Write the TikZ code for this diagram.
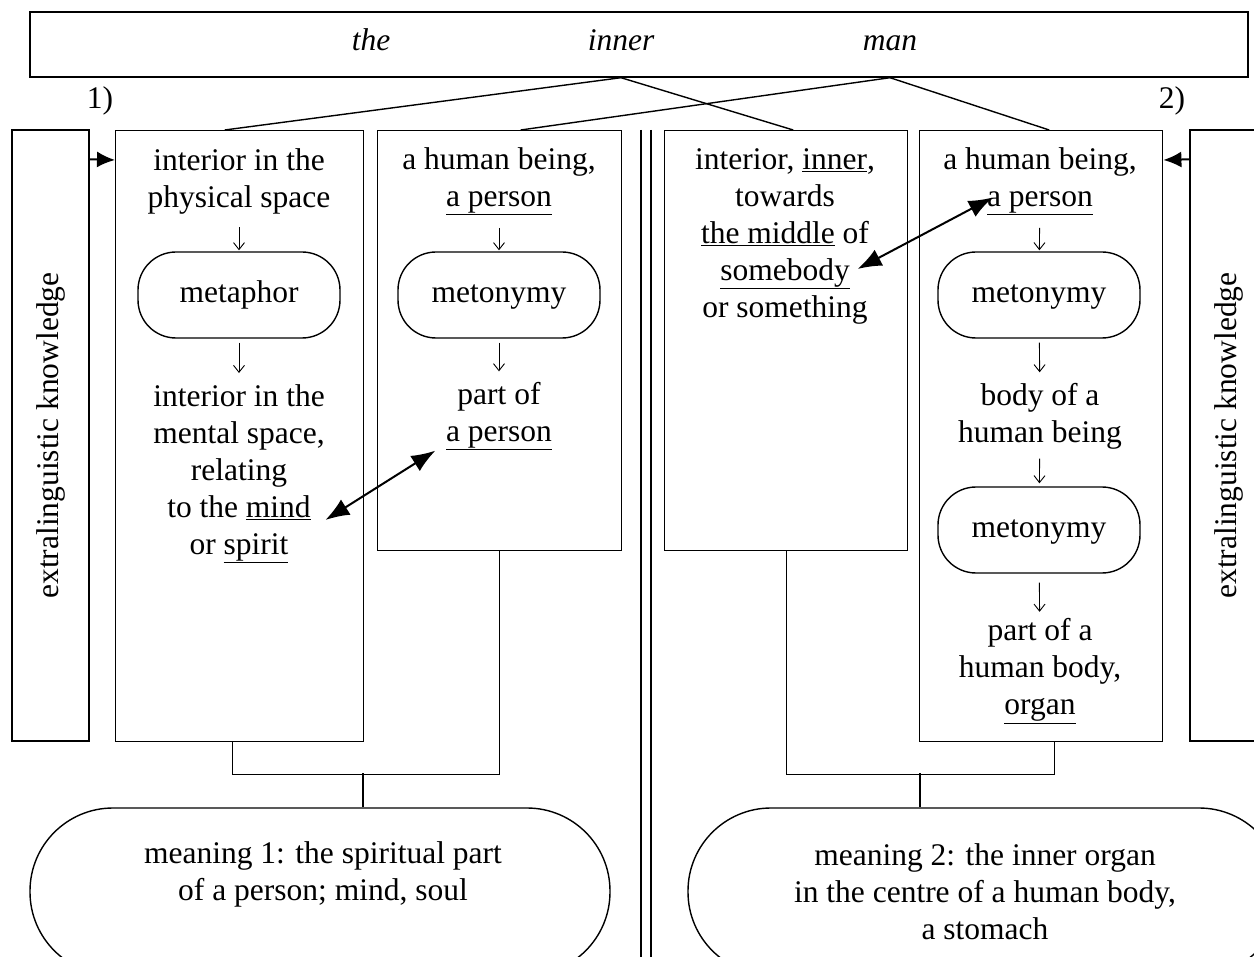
\documentclass[tikz,border=0pt]{standalone}
\usepackage{fontspec}
\setmainfont{Liberation Serif}
\usetikzlibrary{positioning}
\usetikzlibrary{arrows.meta}
\tikzset{
    every node/.append style={
        font=\fontsize{31.5}{37}\selectfont,
        inner sep=0pt
    },
    word/.style={
        font=\fontsize{31.5}{37}\selectfont\itshape,
        text height=22pt,
        text depth=7pt
    },
    column/.style 2 args={
        draw,
        anchor=north west,
        minimum width=#1,
        minimum height=#2
    },
    sidebox/.style={
        draw,
        rotate=90,
        minimum width=611pt,
        minimum height=77pt
    },
    pill/.style={
        draw,
        rounded corners=38pt,
        minimum width=202pt,
        minimum height=86pt,
        text height=22pt,
        text depth=7pt
    },
    meaning/.style={
        draw,
        rounded corners=83pt,
        minimum width=#1,
        minimum height=167pt
    },
    txt/.style={align=center},
    down/.style 2 args={
        -{Straight Barb[length=7pt,width=11pt]},
        line width=0.9pt,
        shorten <=#1,
        shorten >=#2
    },
    link/.style={
        {Latex[length=24pt,width=18pt]}-{Latex[length=24pt,width=18pt]},
        line width=2pt
    },
    feed/.style={
        -{Latex[length=18pt,width=16pt]},
        line width=2pt
    }
}

\begin{document}
\begin{tikzpicture}[x=1pt, y=-1pt, line width=1.4pt]
    \useasboundingbox (0,0) rectangle (1254,957);
    \clip (0,0) rectangle (1254,957);

    % the phrase
    \node[draw, minimum width=1218pt, minimum height=65pt] (top) at (639,44.5) {};
    \node[word] (w1) at (371,43) {the};
    \node[word] (w2) at (621,43) {inner};
    \node[word] (w3) at (890,43) {man};
    \node (n1) at (100,101) {1)};
    \node (n2) at (1172,101) {2)};

    % columns
    \node[sidebox] (k1) at (50.5,435.5) {extralinguistic knowledge};
    \node[column={248pt}{611pt}] (colA) at (115,130) {};
    \node[column={244pt}{420pt}] (colB) at (377,130) {};
    \node[column={243pt}{420pt}] (colC) at (664,130) {};
    \node[column={243pt}{611pt}] (colD) at (919,130) {};
    \node[sidebox] (k2) at (1228.5,435.5) {extralinguistic knowledge};
    \draw (641,130) -- (641,957);
    \draw (651,130) -- (651,957);

    \draw (w2 |- top.south) -- ([xshift=-15pt]colA.north);
    \draw (w2 |- top.south) -- ([xshift=7pt]colC.north);
    \draw (w3 |- top.south) -- ([xshift=21pt]colB.north);
    \draw (w3 |- top.south) -- ([xshift=8pt]colD.north);

    % meaning 1
    \node[txt] (a1) at (239,181.5) {interior in the\\physical space};
    \node[pill] (a2) at (239,295) {metaphor};
    \node[txt] (a3) at (239,474) {interior in the\\mental space,\\relating\\to the \underline{mind}\\or \underline{spirit}};
    \draw[down={12pt}{1pt}] (a1) -- (a2);
    \draw[down={4pt}{11pt}] (a2) -- (a3);

    \node[txt] (b1) at (499,181.5) {a human being,\\\underline{a person}};
    \node[pill] (b2) at (499,295) {metonymy};
    \node[txt] (b3) at (499,416) {part of\\\underline{a person}};
    \draw[down={12pt}{1pt}] (b1) -- (b2);
    \draw[down={4pt}{10pt}] (b2) -- (b3);

    % meaning 2
    \node[txt] (c1) at (785,236) {interior, \underline{inner},\\towards\\\underline{the middle} of\\\underline{somebody}\\or something};

    \node[txt] (d1) at (1040,181.5) {a human being,\\\underline{a person}};
    \node[pill] (d2) at (1039,295) {metonymy};
    \node[txt] (d3) at (1040,416) {body of a\\human being};
    \node[pill] (d4) at (1039,530) {metonymy};
    \node[txt] (d5) at (1040,671) {part of a\\human body,\\\underline{organ}};
    \draw[down={12pt}{1pt}] (d1) -- (d2);
    \draw[down={4pt}{10pt}] (d2) -- (d3);
    \draw[down={9pt}{3pt}] (d3) -- (d4);
    \draw[down={9pt}{6pt}] (d4) -- (d5);

    \draw[feed] ([yshift=-30pt]k1.south east) -- ([yshift=-30pt]colA.north west);
    \draw[feed] ([yshift=-30pt]k2.north east) -- ([yshift=-30pt]colD.north east);
    \draw[link] ([yshift=-46pt]a3.east) -- ([xshift=-10pt]b3.south west);
    \draw[link] ([shift={(-18pt,-33pt)}]c1.east) -- ([shift={(50pt,-16pt)}]d1.west);

    % results
    \node[meaning=580pt] (m1) at (320,891.5) {};
    \node[txt] (m1t) at (323,874.5) {meaning 1: the spiritual part\\of a person; mind, soul};
    \node[meaning=594pt, txt] (m2) at (985,891.5) {meaning 2: the inner organ\\in the centre of a human body,\\a stomach};

    \coordinate (joinA) at (363,773);
    \coordinate (joinC) at (920,773);
    \draw ([xshift=-7pt]colA.south) -- ++(0,32) -| (colB.south);
    \draw (joinA) -- (joinA |- m1.north);
    \draw (colC.south) -- ++(0,223) -| ([xshift=13pt]colD.south);
    \draw (joinC) -- (joinC |- m2.north);
\end{tikzpicture}
\end{document}
